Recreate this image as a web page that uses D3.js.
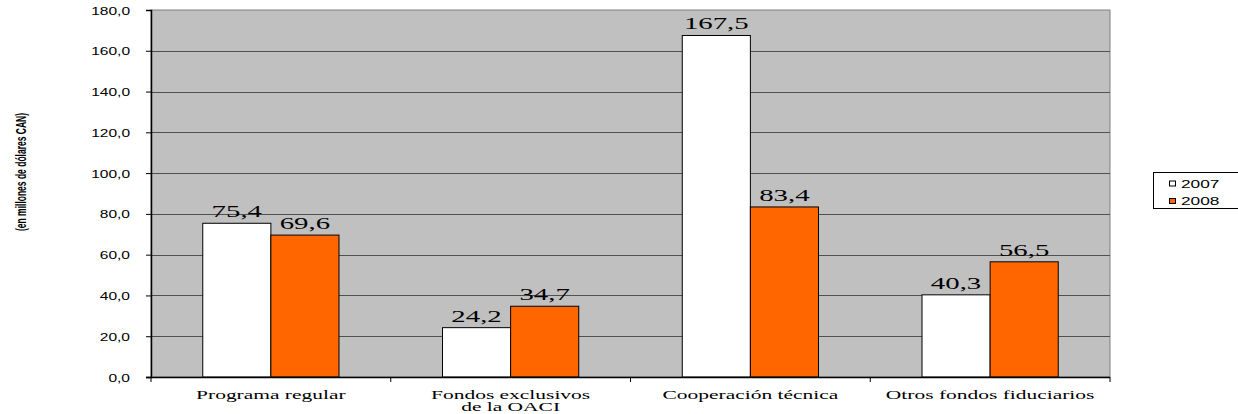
<!DOCTYPE html>
<html>
<head>
<meta charset="utf-8">
<script src="https://cdn.jsdelivr.net/npm/d3@7"></script>
<style>
  html, body { margin: 0; padding: 0; background: #fff; }
  svg { display: block; }
</style>
</head>
<body>
<svg id="chart" width="1238" height="414"></svg>
<script>
// Fund categories and yearly totals (millions of CAD)
const categories = [
  ["Programa regular"],
  ["Fondos exclusivos", "de la OACI"],
  ["Cooperación técnica"],
  ["Otros fondos fiduciarios"]
];
const series = ["2007", "2008"];
const values2007 = [75.4, 24.2, 167.5, 40.3];
const values2008 = [69.6, 34.7, 83.4, 56.5];
const yTicks = [0, 20, 40, 60, 80, 100, 120, 140, 160, 180];
const colors = ["#FFFFFF", "#FF6600"];

const svg = d3.select("#chart");
const plot = { left: 151, right: 1110, top: 10, bottom: 377 };
const fmt = v => v.toFixed(1).replace(".", ",");
const SERIF = "Liberation Serif, Times New Roman, serif";
const SANS = "Liberation Sans, Arial, sans-serif";

// widen text horizontally by a factor, keeping its anchor
function stretch(sel, k) {
  sel.each(function () {
    const w = this.getComputedTextLength();
    if (w > 0) {
      d3.select(this)
        .attr("textLength", w * k)
        .attr("lengthAdjust", "spacingAndGlyphs");
    }
  });
}

const x = d3.scaleBand()
  .domain(d3.range(categories.length))
  .range([plot.left, plot.right]);
const xSeries = d3.scaleBand()
  .domain(series)
  .range([0, x.bandwidth()])
  .paddingOuter(0.76)
  .paddingInner(0);
const y = d3.scaleLinear().domain([0, 180]).range([plot.bottom, plot.top]);

// plot background
svg.append("rect")
  .attr("x", plot.left).attr("y", plot.top)
  .attr("width", plot.right - plot.left).attr("height", plot.bottom - plot.top)
  .attr("fill", "#C0C0C0")
  .attr("stroke", "#808080").attr("stroke-width", 1);

// horizontal gridlines
svg.append("g").selectAll("line")
  .data(yTicks.filter(t => t > 0 && t < 180))
  .join("line")
  .attr("x1", plot.left).attr("x2", plot.right)
  .attr("y1", d => Math.round(y(d)) + 0.5).attr("y2", d => Math.round(y(d)) + 0.5)
  .attr("stroke", "#505050").attr("stroke-width", 1);

// bars
const rows = categories.map((c, i) => [
  { s: "2007", v: values2007[i], i },
  { s: "2008", v: values2008[i], i }
]);
const groups = svg.append("g").selectAll("g")
  .data(rows)
  .join("g")
  .attr("transform", (d, i) => `translate(${x(i)},0)`);

groups.selectAll("rect")
  .data(d => d)
  .join("rect")
  .attr("x", d => xSeries(d.s))
  .attr("y", d => y(d.v))
  .attr("width", xSeries.bandwidth())
  .attr("height", d => y(0) - y(d.v))
  .attr("fill", (d, j) => colors[j])
  .attr("stroke", "#000").attr("stroke-width", 1);

groups.selectAll("text")
  .data(d => d)
  .join("text")
  .attr("x", d => xSeries(d.s) + xSeries.bandwidth() / 2)
  .attr("y", d => y(d.v) - 6)
  .attr("text-anchor", "middle")
  .attr("font-family", SERIF)
  .attr("font-size", 16)
  .attr("fill", "#000")
  .text(d => fmt(d.v))
  .call(stretch, 1.8);

// y axis
const yAxis = d3.axisLeft(y)
  .tickValues(yTicks)
  .tickSize(5)
  .tickPadding(16)
  .tickFormat(fmt);
const gy = svg.append("g")
  .attr("transform", `translate(${plot.left},0)`)
  .call(yAxis);
gy.select(".domain").attr("stroke", "#000").attr("stroke-width", 1.5);
gy.selectAll(".tick line").attr("stroke", "#000");
gy.selectAll(".tick text")
  .attr("font-family", SANS)
  .attr("font-size", 11.5)
  .attr("dy", "0.35em")
  .attr("fill", "#000")
  .call(stretch, 1.35);

// x axis
const gx = svg.append("g")
  .attr("transform", `translate(0,${plot.bottom})`);
gx.append("line")
  .attr("x1", plot.left - 5).attr("x2", plot.right)
  .attr("y1", 0.5).attr("y2", 0.5)
  .attr("stroke", "#000").attr("stroke-width", 1.5);
gx.selectAll("line.tick")
  .data(d3.range(categories.length + 1))
  .join("line")
  .attr("class", "tick")
  .attr("x1", d => plot.left + d * x.bandwidth())
  .attr("x2", d => plot.left + d * x.bandwidth())
  .attr("y1", 0).attr("y2", 5)
  .attr("stroke", "#000");
const xl = gx.selectAll("text")
  .data(categories)
  .join("text")
  .attr("x", (d, i) => x(i) + x.bandwidth() / 2)
  .attr("y", 21.5)
  .attr("text-anchor", "middle")
  .attr("font-family", SERIF)
  .attr("font-size", 13)
  .attr("fill", "#000");
xl.selectAll("tspan")
  .data(d => d)
  .join("tspan")
  .attr("x", function () { return d3.select(this.parentNode).attr("x"); })
  .attr("dy", (d, k) => k === 0 ? 0 : 12.5)
  .text(d => d)
  .call(stretch, 1.65);

// y axis title, set in a condensed bold face
svg.append("text")
  .attr("transform", "translate(21,172) rotate(-90) scale(1,1.35)")
  .attr("text-anchor", "middle")
  .attr("dy", "0.35em")
  .attr("font-family", "Liberation Sans Narrow, Arial Narrow, Liberation Sans, sans-serif")
  .attr("font-weight", "bold")
  .attr("font-size", 11)
  .attr("textLength", 118)
  .attr("lengthAdjust", "spacingAndGlyphs")
  .attr("fill", "#000")
  .text("(en millones de dólares CAN)");

// legend
const legend = svg.append("g").attr("transform", "translate(1153,172)");
legend.append("rect")
  .attr("x", 0.5).attr("y", 0.5).attr("width", 90).attr("height", 36)
  .attr("fill", "#fff").attr("stroke", "#000");
const li = legend.selectAll("g.item")
  .data(series)
  .join("g")
  .attr("class", "item")
  .attr("transform", (d, i) => `translate(16,${11.5 + i * 17.5})`);
li.append("rect")
  .attr("x", 0.5).attr("y", -2.5).attr("width", 6).attr("height", 5)
  .attr("fill", (d, i) => colors[i]).attr("stroke", "#000");
li.append("text")
  .attr("x", 12).attr("y", 0).attr("dy", "0.35em")
  .attr("font-family", SANS)
  .attr("font-size", 11.5)
  .attr("fill", "#000")
  .text(d => d)
  .call(stretch, 1.5);
</script>
</body>
</html>
